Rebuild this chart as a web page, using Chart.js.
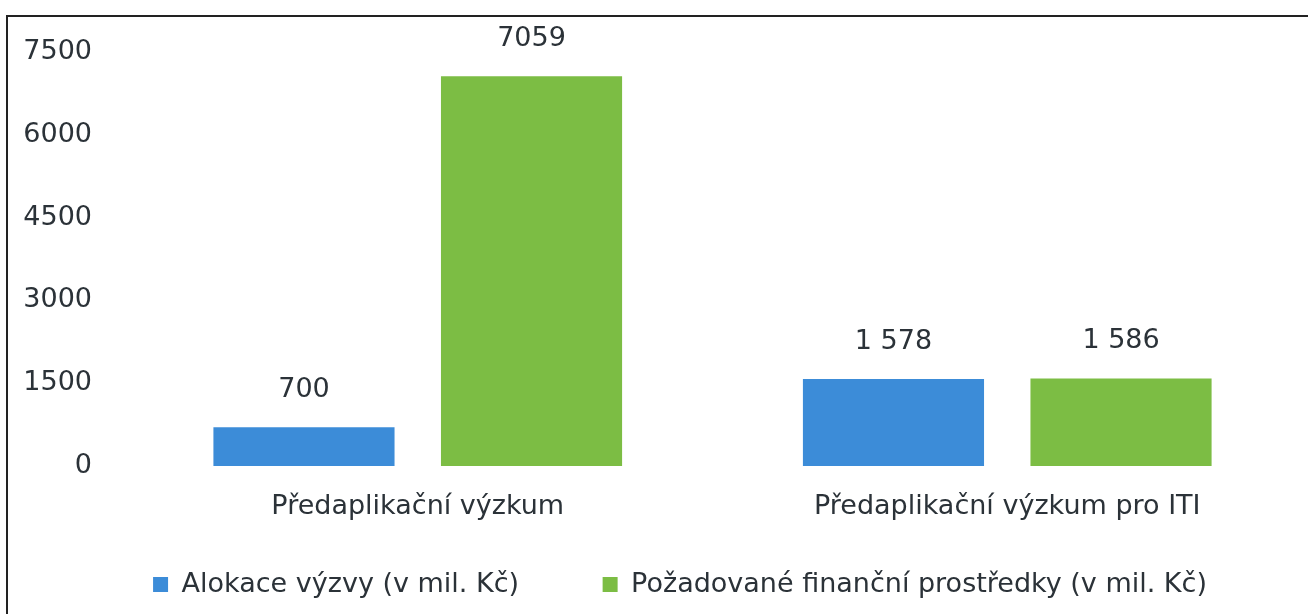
<!DOCTYPE html>
<html>
<head>
<meta charset="utf-8">
<script src="https://cdn.jsdelivr.net/npm/chart.js@4.4.1/dist/chart.umd.min.js"></script>
<style>
  html, body { margin: 0; padding: 0; background: #fff; }
  #wrap { position: relative; width: 1308px; height: 614px; overflow: hidden; }
  #frame { position: absolute; left: 6px; top: 15px; width: 1400px; height: 700px;
           border-top: 2px solid #222; border-left: 2px solid #222; pointer-events: none; }
  canvas { position: absolute; left: 0; top: 0; }
</style>
</head>
<body>
<div id="wrap">
  <canvas id="chart" width="1308" height="614"></canvas>
  <div id="frame"></div>
</div>
<script>
// Data
const categories = ['Předaplikační výzkum', 'Předaplikační výzkum pro ITI'];
const allocation = [700, 1578];
const requested = [7059, 1586];
const allocationLabels = ['700', '1 578'];
const requestedLabels = ['7059', '1 586'];
const yTicks = [0, 1500, 3000, 4500, 6000, 7500];

const textColor = '#2b3238';
const fontFamily = '"DejaVu Sans", "Open Sans", sans-serif';
const fontSize = 27;

// Small plugin that writes the value above each bar
const barValueLabels = {
    id: 'barValueLabels',
    afterDatasetsDraw(chart) {
        const ctx = chart.ctx;
        ctx.save();
        ctx.fillStyle = textColor;
        ctx.font = fontSize + 'px ' + fontFamily;
        ctx.textAlign = 'center';
        ctx.textBaseline = 'middle';
        chart.data.datasets.forEach((ds, i) => {
            const meta = chart.getDatasetMeta(i);
            meta.data.forEach((bar, j) => {
                ctx.fillText(ds.valueLabels[j], bar.x, bar.y - 37);
            });
        });
        ctx.restore();
    }
};

// nudge the legend a bit to the right, like in the original
const legendShift = {
    id: 'legendShift',
    afterLayout(chart) {
        if (chart.legend) {
            chart.legend.left += 24;
            chart.legend.right += 24;
        }
    }
};

const ctx = document.getElementById('chart').getContext('2d');
new Chart(ctx, {
    type: 'bar',
    data: {
        labels: categories,
        datasets: [
            {
                label: 'Alokace výzvy (v mil. Kč)',
                data: allocation,
                valueLabels: allocationLabels,
                backgroundColor: '#3c8cd8',
                categoryPercentage: 0.772,
                barPercentage: 0.796
            },
            {
                label: 'Požadované finanční prostředky (v mil. Kč)',
                data: requested,
                valueLabels: requestedLabels,
                backgroundColor: '#7cbd44',
                categoryPercentage: 0.772,
                barPercentage: 0.796
            }
        ]
    },
    options: {
        responsive: false,
        animation: false,
        layout: {
            padding: { left: 10, right: 6, top: 52, bottom: 6 }
        },
        plugins: {
            legend: {
                position: 'bottom',
                labels: {
                    color: textColor,
                    font: { family: fontFamily, size: fontSize },
                    boxWidth: 15,
                    boxHeight: 15,
                    padding: 16,
                    generateLabels(chart) {
                        const items = Chart.defaults.plugins.legend.labels.generateLabels(chart);
                        // widen the gap between the two legend entries
                        items[0].text = items[0].text + '\u2003\u2003\u2002';
                        return items;
                    }
                }
            },
            tooltip: { enabled: false }
        },
        scales: {
            x: {
                afterFit(scale) {
                    scale.height = 89;
                },
                grid: { display: false },
                border: { display: false },
                ticks: {
                    color: textColor,
                    font: { family: fontFamily, size: fontSize },
                    padding: 17
                }
            },
            y: {
                min: 0,
                max: 7500,
                afterBuildTicks(scale) {
                    scale.ticks = yTicks.map(v => ({ value: v }));
                },
                afterFit(scale) {
                    scale.width = 113;
                },
                grid: { display: false },
                border: { display: false },
                ticks: {
                    color: textColor,
                    font: { family: fontFamily, size: fontSize },
                    padding: 23,
                    callback: value => String(value)
                }
            }
        }
    },
    plugins: [barValueLabels, legendShift]
});
</script>
</body>
</html>
